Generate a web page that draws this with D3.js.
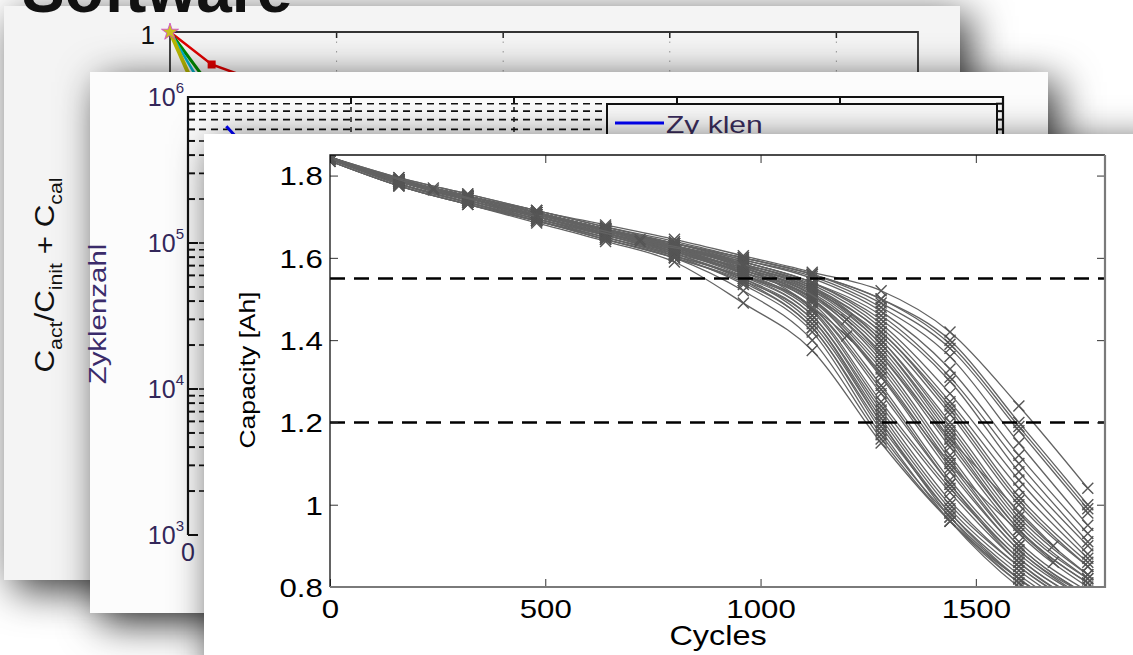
<!DOCTYPE html>
<html>
<head>
<meta charset="utf-8">
<script src="https://cdn.jsdelivr.net/npm/d3@7"></script>
<style>
  body { margin: 0; background: #fff; overflow: hidden; }
  svg { display: block; font-family: Arial, "Liberation Sans", sans-serif; }
</style>
</head>
<body>
<div id="chart"></div>
<script>
// front chart: capacity fade of the cells, sampled every 160 cycles
let cycles = [0, 160, 320, 480, 640, 800, 960, 1120, 1280, 1440, 1600, 1760];
let cells = [
  [1.835, 1.775, 1.73, 1.685, 1.64, 1.59, 1.49, 1.375, 1.15, 0.96, 0.82, 0.72],
  [1.84, 1.78, 1.735, 1.69, 1.645, 1.60, 1.52, 1.40, 1.16, 0.96, 0.81, 0.71],
  [1.84, 1.78, 1.74, 1.695, 1.655, 1.605, 1.535, 1.42, 1.17, 0.97, 0.82, 0.72],
  [1.845, 1.785, 1.745, 1.70, 1.66, 1.61, 1.545, 1.43, 1.19, 0.98, 0.83, 0.72],
  [1.84, 1.785, 1.74, 1.70, 1.655, 1.61, 1.55, 1.44, 1.20, 0.98, 0.82, 0.71],
  [1.835, 1.775, 1.73, 1.69, 1.645, 1.60, 1.545, 1.45, 1.21, 0.99, 0.84, 0.73],
  [1.84, 1.785, 1.745, 1.70, 1.66, 1.615, 1.555, 1.46, 1.22, 1.00, 0.85, 0.74],
  [1.845, 1.79, 1.75, 1.71, 1.665, 1.62, 1.56, 1.46, 1.23, 1.01, 0.85, 0.74],
  [1.84, 1.785, 1.74, 1.70, 1.66, 1.62, 1.56, 1.47, 1.24, 1.03, 0.86, 0.75],
  [1.84, 1.78, 1.735, 1.69, 1.65, 1.605, 1.55, 1.45, 1.20, 0.97, 0.81, 0.70],
  [1.845, 1.79, 1.75, 1.71, 1.67, 1.625, 1.565, 1.475, 1.25, 1.04, 0.87, 0.76],
  [1.835, 1.775, 1.73, 1.69, 1.645, 1.60, 1.54, 1.43, 1.18, 0.96, 0.80, 0.70],
  [1.84, 1.785, 1.74, 1.70, 1.66, 1.615, 1.56, 1.48, 1.27, 1.05, 0.87, 0.76],
  [1.84, 1.78, 1.735, 1.695, 1.65, 1.61, 1.565, 1.49, 1.29, 1.06, 0.88, 0.77],
  [1.845, 1.79, 1.75, 1.71, 1.67, 1.625, 1.57, 1.50, 1.31, 1.08, 0.89, 0.77],
  [1.835, 1.775, 1.73, 1.69, 1.65, 1.605, 1.555, 1.48, 1.28, 1.05, 0.86, 0.75],
  [1.84, 1.785, 1.745, 1.70, 1.66, 1.62, 1.57, 1.50, 1.33, 1.10, 0.90, 0.78],
  [1.845, 1.79, 1.75, 1.71, 1.67, 1.63, 1.575, 1.51, 1.35, 1.12, 0.91, 0.79],
  [1.84, 1.785, 1.74, 1.70, 1.66, 1.615, 1.565, 1.495, 1.32, 1.09, 0.89, 0.78],
  [1.84, 1.78, 1.735, 1.695, 1.655, 1.615, 1.565, 1.50, 1.34, 1.11, 0.90, 0.78],
  [1.845, 1.79, 1.75, 1.71, 1.67, 1.625, 1.57, 1.505, 1.36, 1.14, 0.93, 0.80],
  [1.84, 1.785, 1.745, 1.70, 1.66, 1.62, 1.57, 1.51, 1.37, 1.15, 0.94, 0.81],
  [1.84, 1.785, 1.745, 1.705, 1.665, 1.625, 1.58, 1.52, 1.39, 1.18, 0.96, 0.82],
  [1.845, 1.79, 1.75, 1.71, 1.67, 1.63, 1.58, 1.525, 1.40, 1.20, 0.98, 0.83],
  [1.84, 1.78, 1.735, 1.695, 1.655, 1.615, 1.575, 1.515, 1.38, 1.16, 0.94, 0.81],
  [1.84, 1.785, 1.745, 1.70, 1.66, 1.62, 1.575, 1.52, 1.41, 1.22, 1.00, 0.85],
  [1.845, 1.79, 1.75, 1.71, 1.67, 1.63, 1.585, 1.53, 1.42, 1.24, 1.02, 0.86],
  [1.84, 1.785, 1.745, 1.705, 1.665, 1.625, 1.58, 1.525, 1.42, 1.23, 1.01, 0.85],
  [1.84, 1.79, 1.745, 1.705, 1.665, 1.63, 1.585, 1.535, 1.43, 1.25, 1.04, 0.87],
  [1.845, 1.79, 1.75, 1.715, 1.675, 1.635, 1.59, 1.54, 1.44, 1.27, 1.06, 0.88],
  [1.84, 1.785, 1.745, 1.705, 1.665, 1.625, 1.585, 1.53, 1.40, 1.19, 0.97, 0.83],
  [1.845, 1.79, 1.745, 1.705, 1.665, 1.625, 1.58, 1.525, 1.39, 1.17, 0.95, 0.82],
  [1.845, 1.79, 1.75, 1.71, 1.67, 1.63, 1.59, 1.54, 1.45, 1.30, 1.08, 0.90],
  [1.84, 1.785, 1.745, 1.705, 1.665, 1.63, 1.59, 1.54, 1.46, 1.31, 1.10, 0.91],
  [1.845, 1.79, 1.75, 1.71, 1.67, 1.635, 1.595, 1.55, 1.47, 1.33, 1.12, 0.93],
  [1.84, 1.79, 1.745, 1.705, 1.67, 1.635, 1.595, 1.555, 1.48, 1.36, 1.15, 0.95],
  [1.845, 1.79, 1.75, 1.71, 1.67, 1.635, 1.60, 1.56, 1.49, 1.38, 1.18, 0.98],
  [1.845, 1.795, 1.755, 1.715, 1.675, 1.64, 1.60, 1.56, 1.50, 1.40, 1.20, 1.00],
  [1.845, 1.795, 1.755, 1.715, 1.68, 1.645, 1.605, 1.565, 1.52, 1.42, 1.24, 1.04],
  [1.84, 1.79, 1.75, 1.71, 1.67, 1.635, 1.60, 1.56, 1.50, 1.39, 1.19, 0.99]
];
// a couple of cells measured every 240 cycles
let cyclesAlt = [0, 240, 480, 720, 960, 1200, 1440, 1680];
let cellsAlt = [
  [1.84, 1.77, 1.70, 1.64, 1.58, 1.41, 1.10, 0.86],
  [1.845, 1.765, 1.705, 1.645, 1.585, 1.45, 1.16, 0.90]
];
let limits = [1.55, 1.2];
let xTicks = [0, 500, 1000, 1500];
let yTicks = [0.8, 1, 1.2, 1.4, 1.6, 1.8];

// slides behind
let backTicks1 = [1, 2, 3, 4];
let backLines1 = [
  { color: "#e00000", w: 2.5, pts: [[0, 1], [0.25, 0.987], [0.5, 0.981]] },
  { color: "#008a00", w: 3, pts: [[0, 1], [0.2, 0.982]] },
  { color: "#00b0c8", w: 2.5, pts: [[0, 1], [0.16, 0.982]] },
  { color: "#b8b800", w: 4, pts: [[0, 1], [0.12, 0.982]] }
];
let backTicks2 = [1, 2, 3, 4];
let zyklen = [[0.235, 6.3e5], [0.5, 3e5]];

let W = 1133, H = 655;
let svg = d3.select('#chart').append('svg')
  .attr('width', W)
  .attr('height', H)

let defs = svg.append('defs');
defs.append('filter').attr('id', 'shadow')
  .attr('x', '-30%').attr('y', '-30%').attr('width', '160%').attr('height', '160%')
  .append('feDropShadow')
  .attr('dx', 10).attr('dy', 10).attr('stdDeviation', 20)
  .attr('flood-color', '#000').attr('flood-opacity', 0.8);

///////////// slide 1
svg.append('rect').attr('x', 4).attr('y', 6).attr('width', 956).attr('height', 574)
  .attr('fill', '#f4f4f4').attr('filter', 'url(#shadow)');

let bx1 = d3.scaleLinear().domain([0, 4.49]).range([170, 918]);
let by1 = d3.scaleLinear().domain([0.8, 1]).range([532, 32]);

let s1 = svg.append('g');
s1.selectAll('.grid1').data(backTicks1).enter().append('line')
  .attr('x1', d => bx1(d)).attr('x2', d => bx1(d))
  .attr('y1', 32).attr('y2', 80)
  .attr('stroke', '#999').attr('stroke-dasharray', '1.5,8');
s1.selectAll('.tick1').data(backTicks1).enter().append('line')
  .attr('x1', d => bx1(d)).attr('x2', d => bx1(d))
  .attr('y1', 32).attr('y2', 38)
  .attr('stroke', '#222').attr('stroke-width', 1.5);
s1.append('path')
  .attr('d', `M170,80V32H918V80`)
  .attr('fill', 'none').attr('stroke', '#333').attr('stroke-width', 1.8);

let line1 = d3.line().x(d => bx1(d[0])).y(d => by1(d[1]));
s1.selectAll('.bl1').data(backLines1).enter().append('path')
  .attr('d', d => line1(d.pts))
  .attr('fill', 'none')
  .attr('stroke', d => d.color)
  .attr('stroke-width', d => d.w);
s1.append('rect')
  .attr('x', bx1(0.25) - 4).attr('y', by1(0.987) - 4)
  .attr('width', 8).attr('height', 8).attr('fill', '#e00000');
s1.append('path')
  .attr('transform', `translate(${bx1(0)},${by1(1)})`)
  .attr('d', d3.symbol(d3.symbolStar, 90)())
  .attr('fill', '#c8c020').attr('stroke', '#d040d0').attr('stroke-width', 0.8);

s1.append('text').attr('x', 155).attr('y', 44)
  .attr('text-anchor', 'end').attr('font-size', 26).attr('fill', '#111').text('1');

let lab1 = s1.append('text')
  .attr('transform', 'translate(54,275) rotate(-90) scale(1.12,1)')
  .attr('text-anchor', 'middle').attr('font-size', 28).attr('fill', '#111');
lab1.append('tspan').text('C');
lab1.append('tspan').attr('font-size', 19).attr('dy', 8).text('act');
lab1.append('tspan').attr('dy', -8).text('/C');
lab1.append('tspan').attr('font-size', 19).attr('dy', 8).text('init');
lab1.append('tspan').attr('dy', -8).text(' + C');
lab1.append('tspan').attr('font-size', 19).attr('dy', 8).text('cal');

// big slide title, mostly off screen
svg.append('text').attr('x', 22).attr('y', 12)
  .attr('font-size', 64).attr('font-weight', 'bold').attr('fill', '#111').text('Software');

///////////// slide 2
svg.append('rect').attr('x', 90).attr('y', 72).attr('width', 958).attr('height', 541)
  .attr('fill', '#fcfcfc').attr('filter', 'url(#shadow)');

let bx2 = d3.scaleLinear().domain([0, 5]).range([188, 1003]);
let by2 = d3.scaleLog().domain([1e3, 1e6]).range([535, 97]);
let logTicks = [];
[1e3, 1e4, 1e5].forEach(p => {
  for (let k = 1; k < 10; k++) logTicks.push(k * p);
});
logTicks.push(1e6);

let s2 = svg.append('g');
s2.selectAll('.hg').data(logTicks.filter(d => d < 1e6 && d > 1e3)).enter().append('line')
  .attr('x1', 199).attr('x2', 1003)
  .attr('y1', d => by2(d)).attr('y2', d => by2(d))
  .attr('stroke', '#111').attr('stroke-width', 1.6).attr('stroke-dasharray', '7,5');
s2.selectAll('.vg').data(backTicks2).enter().append('line')
  .attr('x1', d => bx2(d)).attr('x2', d => bx2(d))
  .attr('y1', 97).attr('y2', 535)
  .attr('stroke', '#111').attr('stroke-width', 1.4).attr('stroke-dasharray', '5,5');
s2.selectAll('.lt').data(logTicks).enter().append('line')
  .attr('x1', 188).attr('x2', d => [1e3, 1e4, 1e5, 1e6].includes(d) ? 198 : 195)
  .attr('y1', d => by2(d)).attr('y2', d => by2(d))
  .attr('stroke', '#111').attr('stroke-width', 2);
s2.selectAll('.rt').data(logTicks).enter().append('line')
  .attr('x1', 1003).attr('x2', 996)
  .attr('y1', d => by2(d)).attr('y2', d => by2(d))
  .attr('stroke', '#111').attr('stroke-width', 2);
s2.selectAll('.tt').data(backTicks2).enter().append('line')
  .attr('x1', d => bx2(d)).attr('x2', d => bx2(d))
  .attr('y1', 97).attr('y2', 104)
  .attr('stroke', '#111').attr('stroke-width', 2);

s2.append('path')
  .attr('d', d3.line().x(d => bx2(d[0])).y(d => by2(d[1]))(zyklen))
  .attr('fill', 'none').attr('stroke', '#0000ff').attr('stroke-width', 3);

// legend box
s2.append('rect').attr('x', 607).attr('y', 104).attr('width', 390).attr('height', 200)
  .attr('fill', '#fafafa').attr('stroke', '#111').attr('stroke-width', 2);
s2.append('line').attr('x1', 615).attr('x2', 664).attr('y1', 123).attr('y2', 123)
  .attr('stroke', '#0000ff').attr('stroke-width', 3);
s2.append('text').attr('transform', 'translate(666,133) scale(1.25,1)')
  .attr('font-size', 24).attr('fill', '#3a2c5c').text('Zy klen');

s2.append('path')
  .attr('d', `M188,535V97H1003V140`)
  .attr('fill', 'none').attr('stroke', '#111').attr('stroke-width', 2.2);

s2.selectAll('.ylab2').data([1e3, 1e4, 1e5, 1e6]).enter().append('text')
  .attr('x', 184).attr('y', d => by2(d) + 9)
  .attr('text-anchor', 'end').attr('font-size', 25).attr('fill', '#33275a')
  .each(function(d) {
    let t = d3.select(this);
    t.append('tspan').text('10');
    t.append('tspan').attr('font-size', 15).attr('dy', -13).text(Math.round(Math.log10(d)));
  });
s2.append('text').attr('x', bx2(0)).attr('y', 561)
  .attr('text-anchor', 'middle').attr('font-size', 25).attr('fill', '#33275a').text('0');
s2.append('text')
  .attr('transform', 'translate(106,314) rotate(-90) scale(1.28,1)')
  .attr('text-anchor', 'middle').attr('font-size', 23).attr('fill', '#3b2c6b').text('Zyklenzahl');

///////////// slide 3: capacity chart
svg.append('rect').attr('x', 204).attr('y', 134).attr('width', 960).attr('height', 560)
  .attr('fill', '#fff').attr('filter', 'url(#shadow)');

let x = d3.scaleLinear().domain([0, 1800]).range([330, 1105]);
let y = d3.scaleLinear().domain([0.8, 1.85]).range([587, 155]);

defs.append('clipPath').attr('id', 'plot')
  .append('rect').attr('x', 330).attr('y', 155).attr('width', 775).attr('height', 432);

let plot = svg.append('g').attr('clip-path', 'url(#plot)');

let cellLine = cyc => d3.line()
  .x((d, i) => x(cyc[i]))
  .y(d => y(d))
  .curve(d3.curveMonotoneX);

let cross = 'M-5.5,-5.5L5.5,5.5M-5.5,5.5L5.5,-5.5';

function drawCells(data, cyc) {
  plot.selectAll(null).data(data).enter().append('path')
    .attr('d', cellLine(cyc))
    .attr('fill', 'none')
    .attr('stroke', '#636363')
    .attr('stroke-width', 1.3);
  data.forEach(row => {
    plot.selectAll(null).data(row).enter().append('path')
      .attr('transform', (d, i) => `translate(${x(cyc[i])},${y(d)})`)
      .attr('d', cross)
      .attr('stroke', '#555')
      .attr('stroke-width', 1.4);
  });
}
drawCells(cells, cycles);
drawCells(cellsAlt, cyclesAlt);

plot.selectAll('.limit').data(limits).enter().append('line')
  .attr('x1', 330).attr('x2', 1105)
  .attr('y1', d => y(d)).attr('y2', d => y(d))
  .attr('stroke', '#000').attr('stroke-width', 2.5).attr('stroke-dasharray', '15,9');

// axes, ticks pointing inward
let xAxis = svg.append('g').attr('transform', 'translate(0,587)')
  .call(d3.axisBottom(x).tickValues(xTicks).tickSize(-8).tickPadding(13)
    .tickFormat(d3.format('d')));
let yAxis = svg.append('g').attr('transform', 'translate(330,0)')
  .call(d3.axisLeft(y).tickValues(yTicks).tickSize(-8).tickPadding(6)
    .tickFormat(d3.format('~g')));
let xTop = svg.append('g').attr('transform', 'translate(0,155)')
  .call(d3.axisTop(x).tickValues(xTicks).tickSize(-8).tickFormat(''));
let yRight = svg.append('g').attr('transform', 'translate(1105,0)')
  .call(d3.axisRight(y).tickValues(yTicks).tickSize(-8).tickFormat(''));

[xAxis, yAxis, xTop, yRight].forEach(a => {
  a.select('.domain').remove();
  a.selectAll('.tick line').attr('stroke', '#333');
});
[xAxis, yAxis].forEach(a => {
  a.selectAll('text')
    .attr('font-size', 26)
    .attr('font-family', 'Arial, "Liberation Sans", sans-serif')
    .attr('fill', '#000')
    .attr('transform', 'scale(1.2,1)');
});
yAxis.selectAll('text').attr('dy', '0.36em');

svg.append('path').attr('d', 'M330,587V155H1105')
  .attr('fill', 'none').attr('stroke', '#111').attr('stroke-width', 1.3);
svg.append('path').attr('d', 'M330,587H1105V155')
  .attr('fill', 'none').attr('stroke', '#7a7a7a').attr('stroke-width', 2.2);

svg.append('text').attr('transform', 'translate(718,645) scale(1.2,1)')
  .attr('text-anchor', 'middle').attr('font-size', 27).attr('fill', '#000').text('Cycles');
svg.append('text').attr('transform', 'translate(255,370) rotate(-90) scale(1.2,1)')
  .attr('text-anchor', 'middle').attr('font-size', 22).attr('fill', '#000').text('Capacity [Ah]');
</script>
</body>
</html>
